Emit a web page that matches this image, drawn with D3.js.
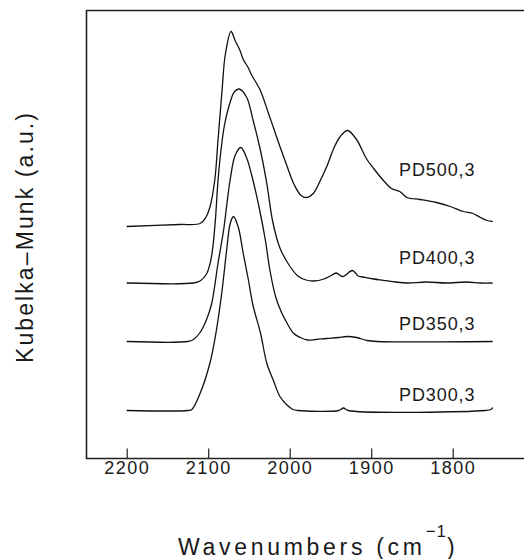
<!DOCTYPE html>
<html>
<head>
<meta charset="utf-8">
<script src="https://cdn.jsdelivr.net/npm/d3@7"></script>
<style>
  body { margin: 0; background: #fff; }
  text { font-family: "Liberation Sans", Arial, sans-serif; fill: #1a1a1a; }
</style>
</head>
<body>
<div id="wrapper"></div>
<script>
// spectra: [wavenumber cm-1, Kubelka-Munk above own baseline]
const pd300 = [
  [2200, 0], [2125, 0], [2120, 0.01], [2110, 0.17], [2098, 0.47], [2090, 0.8],
  [2083, 1.2], [2077, 1.63], [2073, 1.87], [2069, 1.94], [2063, 1.83],
  [2057, 1.57], [2051, 1.32], [2045, 1.05], [2036, 0.78], [2028, 0.47],
  [2020, 0.3], [2012, 0.14], [2004, 0.06], [1996, 0.01], [1990, 0],
  [1940, 0], [1934, 0.025], [1928, 0], [1760, 0], [1753, 0.01], [1751, 0.03]
];
const pd350 = [
  [2200, 0], [2125, 0], [2118, 0.02], [2110, 0.09], [2103, 0.2], [2096, 0.37],
  [2088, 0.78], [2081, 1.12], [2077, 1.38], [2073, 1.62], [2067, 1.86],
  [2060, 1.94], [2053, 1.84], [2045, 1.61], [2037, 1.32], [2030, 1.02],
  [2024, 0.7], [2017, 0.44], [2010, 0.29], [2003, 0.18], [1995, 0.08],
  [1987, 0.04], [1978, 0.015], [1968, 0.02], [1955, 0.03], [1940, 0.04],
  [1930, 0.05], [1918, 0.04], [1905, 0.01], [1893, 0], [1751, 0]
];
const pd400 = [
  [2200, 0], [2118, 0], [2110, 0.02], [2102, 0.09], [2097, 0.22], [2094, 0.38],
  [2091, 0.65], [2088, 1.02], [2084, 1.35], [2080, 1.58], [2073, 1.81],
  [2068, 1.91], [2062, 1.94], [2053, 1.86], [2045, 1.63], [2036, 1.33],
  [2028, 0.99], [2021, 0.62], [2012, 0.35], [2000, 0.17], [1990, 0.07],
  [1980, 0.03], [1970, 0.02], [1958, 0.04], [1950, 0.07], [1943, 0.1],
  [1935, 0.065], [1923, 0.125], [1916, 0.07], [1910, 0.06], [1897, 0.04],
  [1885, 0.027], [1870, 0.01], [1856, 0], [1832, 0.01], [1808, 0],
  [1783, 0.01], [1766, 0], [1751, 0]
];
const pd500 = [
  [2200, 0], [2135, 0.02], [2110, 0.03], [2103, 0.09], [2098, 0.19],
  [2092, 0.46], [2088, 0.86], [2083, 1.36], [2079, 1.72], [2072, 1.95],
  [2067, 1.86], [2061, 1.76], [2057, 1.67], [2051, 1.59], [2047, 1.52],
  [2036, 1.36], [2026, 1.13], [2020, 0.99], [2012, 0.8], [2004, 0.62],
  [1994, 0.41], [1986, 0.31], [1979, 0.29], [1971, 0.33], [1963, 0.45],
  [1954, 0.61], [1946, 0.78], [1938, 0.9], [1929, 0.96], [1918, 0.87],
  [1906, 0.68], [1897, 0.58], [1885, 0.46], [1875, 0.38], [1865, 0.35],
  [1856, 0.29], [1840, 0.27], [1820, 0.24], [1803, 0.2], [1787, 0.15],
  [1775, 0.13], [1766, 0.09], [1758, 0.06], [1751, 0.05]
];
const seriesNames = ["PD300,3", "PD350,3", "PD400,3", "PD500,3"];
const baselines = [0.48, 1.17, 1.755, 2.32];
const xTicks = [2200, 2100, 2000, 1900, 1800];

const spectra = [pd300, pd350, pd400, pd500];

const width = 524;
const height = 559;

let svg = d3
  .select("#wrapper")
  .append("svg")
  .attr("width", width)
  .attr("height", height);

let x = d3.scaleLinear().domain([2200, 1800]).range([126.7, 452.7]);
let y = d3.scaleLinear().domain([0, 4.48]).range([458.5, 10.5]);

// frame (right side runs off the page)
svg
  .append("path")
  .attr("d", "M540,10.5H86.5V458.5H540")
  .attr("fill", "none")
  .attr("stroke", "#222")
  .attr("stroke-width", 1.6);

let xAxis = d3
  .axisBottom(x)
  .tickValues(xTicks)
  .tickSizeInner(-10)
  .tickSizeOuter(0)
  .tickPadding(2.5)
  .tickFormat(d3.format("d"));

let gx = svg
  .append("g")
  .attr("transform", `translate(0, ${y(0)})`)
  .call(xAxis);
gx.select(".domain").remove();
gx.selectAll("line").attr("stroke", "#222").attr("stroke-width", 1.2);
gx.selectAll("text")
  .attr("font-size", 18)
  .attr("letter-spacing", 1.5)
  .attr("fill", "#1a1a1a")
  .attr("font-family", "Liberation Sans, Arial, sans-serif");

let line = d3
  .line()
  .x(d => x(d[0]))
  .curve(d3.curveCatmullRom.alpha(0.5));

svg
  .append("g")
  .selectAll("path")
  .data(spectra)
  .join("path")
  .attr("fill", "none")
  .attr("stroke", "#111")
  .attr("stroke-width", 1.3)
  .attr("d", (d, i) => line.y(p => y(p[1] + baselines[i]))(d));

// series labels sit above the right end of each trace
const labelLift = [10, 12, 19, 51];
svg
  .append("g")
  .selectAll("text")
  .data(seriesNames)
  .join("text")
  .attr("x", 399)
  .attr("y", (d, i) => y(baselines[i]) - labelLift[i])
  .attr("font-size", 18)
  .attr("letter-spacing", 0.9)
  .text(d => d);

// axis titles
let xTitle = svg
  .append("text")
  .attr("x", 178)
  .attr("y", 555)
  .attr("font-size", 23)
  .attr("letter-spacing", 3.7);
xTitle.append("tspan").text("Wavenumbers (cm");
xTitle
  .append("tspan")
  .attr("dy", -18)
  .attr("font-size", 17)
  .attr("letter-spacing", 1)
  .text("−1");
xTitle.append("tspan").attr("dy", 18).text(")");

svg
  .append("text")
  .attr("transform", "translate(33, 237) rotate(-90)")
  .attr("text-anchor", "middle")
  .attr("font-size", 23)
  .attr("letter-spacing", 2.1)
  .text("Kubelka–Munk (a.u.)");
</script>
</body>
</html>
